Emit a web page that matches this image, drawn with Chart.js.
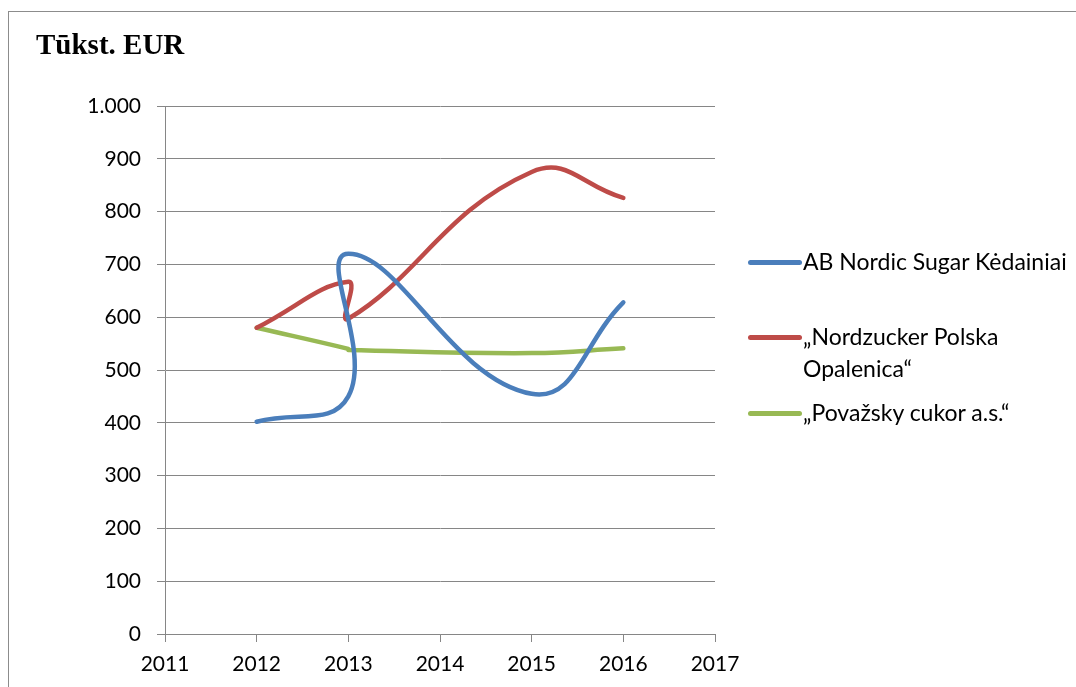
<!DOCTYPE html>
<html>
<head>
<meta charset="utf-8">
<script src="https://cdn.jsdelivr.net/npm/chart.js@4/dist/chart.umd.min.js"></script>
<style>
  body { margin: 0; background: #fff; }
  #wrap { position: relative; width: 1076px; height: 687px; overflow: hidden; }
  #frame { position: absolute; left: 8px; top: 11px; width: 1200px; height: 800px; border: 1px solid #8c8c8c; }
  #title { position: absolute; left: 36px; top: 28px; font: bold 29px "Liberation Serif", serif; color: #000; }
  #legend { position: absolute; left: 748px; top: 0; font: 23px Lato, sans-serif; color: #000; }
  .item { position: absolute; left: 0; white-space: nowrap; }
  .item span.sw { position: absolute; left: 0; width: 54px; height: 5px; border-radius: 3px; }
  .item div { position: absolute; left: 55px; line-height: 32px; }
</style>
</head>
<body>
<div id="wrap">
  <div id="frame"></div>
  <canvas id="chart" width="1076" height="687"></canvas>
  <div id="title">Tūkst. EUR</div>
  <div id="legend"></div>
</div>
<script>
  /* ---- dữ liệu ---- */
  const seriesNames = ["AB Nordic Sugar Kėdainiai", "„Nordzucker Polska Opalenica“", "„Považsky cukor a.s.“"];
  const years       = [2012, 2013, 2013, 2015, 2016];
  const nordicSugar = [402, 450, 720, 455, 628];
  const nordzucker  = [580, 667, 597, 875, 826];
  const povazsky    = [580, 540, 538, 532, 541];
  const yTicks      = [0, 100, 200, 300, 400, 500, 600, 700, 800, 900, 1000];
  const xTicks      = [2011, 2012, 2013, 2014, 2015, 2016, 2017];

  const colors = ['#4a7ebb', '#be4b48', '#98b954'];
  const values = [nordicSugar, nordzucker, povazsky];

  function toPoints(arr) {
      return years.map(function (x, i) { return { x: x, y: arr[i] }; });
  }

  const GRID = '#868686';
  Chart.defaults.font.family = 'Lato, sans-serif';
  Chart.defaults.font.size = 21;
  Chart.defaults.color = '#000';

  new Chart(document.getElementById('chart'), {
      type: 'scatter',
      data: {
          datasets: values.map(function (arr, i) {
              return {
                  label: seriesNames[i],
                  data: toPoints(arr),
                  showLine: true,
                  borderColor: colors[i],
                  borderWidth: 4.5,
                  borderCapStyle: 'round',
                  borderJoinStyle: 'round',
                  pointRadius: 0,
                  tension: 0.45,
                  fill: false
              };
          })
      },
      options: {
          responsive: false,
          animation: false,
          layout: { padding: { left: 0, right: 361, top: 106, bottom: 0 } },
          plugins: { legend: { display: false }, tooltip: { enabled: false } },
          scales: {
              x: {
                  type: 'linear',
                  min: xTicks[0], max: xTicks[xTicks.length - 1],
                  afterBuildTicks: function (s) { s.ticks = xTicks.map(function (v) { return { value: v }; }); },
                  afterFit: function (s) { s.height = 53; },
                  grid: { drawOnChartArea: false, drawTicks: true, tickLength: 8, color: GRID },
                  border: { color: GRID, width: 1 },
                  ticks: { padding: 10, maxRotation: 0, callback: function (v) { return String(v); } }
              },
              y: {
                  min: 0, max: 1000,
                  afterBuildTicks: function (s) { s.ticks = yTicks.map(function (v) { return { value: v }; }); },
                  afterFit: function (s) { s.width = 165; },
                  grid: { color: GRID, tickLength: 8 },
                  border: { color: GRID, width: 1 },
                  ticks: { padding: 16, callback: function (v) { return v.toLocaleString('de-DE'); } }
              }
          }
      }
  });

  /* ---- legend bên phải ---- */
  const legendRows = [
      { top: 262, lines: ["AB Nordic Sugar Kėdainiai"] },
      { top: 337, lines: ["„Nordzucker Polska", "Opalenica“"] },
      { top: 413, lines: ["„Považsky cukor a.s.“"] }
  ];
  const legend = document.getElementById('legend');
  legendRows.forEach(function (row, i) {
      const item = document.createElement('div');
      item.className = 'item';
      item.style.top = row.top + 'px';
      const sw = document.createElement('span');
      sw.className = 'sw';
      sw.style.background = colors[i];
      sw.style.top = '-2px';
      item.appendChild(sw);
      const txt = document.createElement('div');
      txt.style.top = '-17px';
      txt.innerHTML = row.lines.join('<br>');
      item.appendChild(txt);
      legend.appendChild(item);
  });
</script>
</body>
</html>
